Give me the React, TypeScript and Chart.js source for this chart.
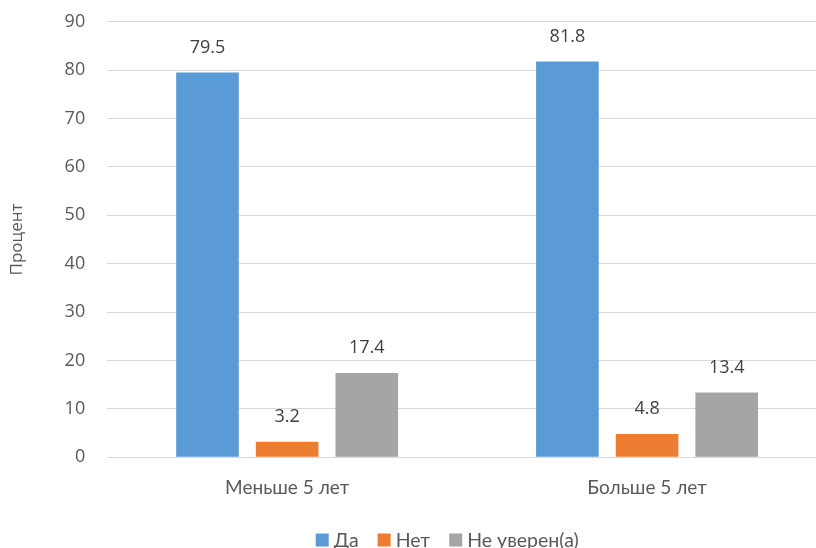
import React, { useEffect, useRef } from "react";
import { Chart, registerables } from "chart.js";

Chart.register(...registerables);

const categories = ["Меньше 5 лет", "Больше 5 лет"];
const seriesNames = ["Да", "Нет", "Не уверен(а)"];
const seriesDa = [79.5, 81.8];
const seriesNet = [3.2, 4.8];
const seriesNeUveren = [17.4, 13.4];
const seriesColors = ["#5B9BD5", "#ED7D31", "#A5A5A5"];
const yTitle = "Процент";

const NUM_FONT = "'Open Sans', 'Noto Sans', sans-serif";
const CAT_FONT = "Lato, 'Open Sans', sans-serif";

const dataLabelsPlugin = {
  id: "dataLabels",
  afterDatasetsDraw(chart: any) {
    const ctx = chart.ctx;
    ctx.save();
    ctx.font = `18px ${NUM_FONT}`;
    ctx.fillStyle = "#404040";
    ctx.textAlign = "center";
    ctx.textBaseline = "middle";
    chart.data.datasets.forEach((ds: any, i: number) => {
      const meta = chart.getDatasetMeta(i);
      meta.data.forEach((el: any, j: number) => {
        ctx.fillText(Number(ds.data[j]).toFixed(1), el.x, el.y - 25);
      });
    });
    ctx.restore();
  },
};

const legendPlugin = {
  id: "customLegend",
  afterDraw(chart: any) {
    const ctx = chart.ctx;
    ctx.save();
    ctx.font = `19.5px ${CAT_FONT}`;
    ctx.textBaseline = "middle";
    ctx.textAlign = "left";
    const box = 13;
    const gapBoxText = 5;
    const gapItems = 19;
    const items = chart.data.datasets.map((ds: any) => ({
      label: ds.label,
      color: ds.backgroundColor,
      w: box + gapBoxText + ctx.measureText(ds.label).width,
    }));
    const total =
      items.reduce((s: number, it: any) => s + it.w, 0) + gapItems * (items.length - 1);
    const cx = chart.chartArea.left + 340;
    const cy = 540;
    let x = cx - total / 2;
    items.forEach((it: any) => {
      ctx.fillStyle = it.color;
      ctx.fillRect(x, cy - box / 2, box, box);
      ctx.fillStyle = "#595959";
      ctx.fillText(it.label, x + box + gapBoxText, cy + 1);
      x += it.w + gapItems;
    });
    ctx.restore();
  },
};

export default function App() {
  const ref = useRef<HTMLCanvasElement>(null);

  useEffect(() => {
    if (!ref.current) return;
    const chart = new Chart(ref.current, {
      type: "bar",
      data: {
        labels: categories,
        datasets: [
          { label: seriesNames[0], data: seriesDa, backgroundColor: seriesColors[0] },
          { label: seriesNames[1], data: seriesNet, backgroundColor: seriesColors[1] },
          { label: seriesNames[2], data: seriesNeUveren, backgroundColor: seriesColors[2] },
        ].map((d) => ({
          ...d,
          categoryPercentage: 0.664,
          barPercentage: 0.786,
          borderWidth: 0,
        })),
      },
      options: {
        animation: false,
        responsive: false,
        devicePixelRatio: 1,
        layout: { padding: { top: 21.7, right: 23, bottom: 0, left: 0 } },
        plugins: {
          legend: { display: false },
          tooltip: { enabled: false },
        },
        scales: {
          x: {
            grid: { display: false, drawTicks: false },
            border: { display: true, color: "#D9D9D9", width: 1 },
            ticks: {
              color: "#595959",
              font: { family: CAT_FONT, size: 19 },
              padding: 19,
            },
            afterFit(scale: any) {
              scale.height = 90.7;
              scale.paddingLeft = 0;
              scale.paddingRight = 0;
            },
          },
          y: {
            min: 0,
            max: 90,
            ticks: {
              stepSize: 10,
              color: "#595959",
              font: { family: NUM_FONT, size: 18 },
              padding: 22,
            },
            grid: { color: "#D9D9D9", lineWidth: 1, drawTicks: false },
            border: { display: false },
            title: {
              display: true,
              text: yTitle,
              color: "#595959",
              font: { family: NUM_FONT, size: 17 },
              padding: { top: 7, bottom: 0 },
            },
            afterFit(scale: any) {
              scale.width = 107.2;
              scale.paddingTop = 0;
              scale.paddingBottom = 0;
            },
          },
        },
      },
      plugins: [dataLabelsPlugin, legendPlugin],
    });
    return () => chart.destroy();
  }, []);

  return (
    <div
      style={{
        position: "fixed",
        left: 0,
        top: 0,
        width: 816,
        height: 548,
        overflow: "hidden",
        background: "#fff",
      }}
    >
      <canvas
        ref={ref}
        width={850}
        height={548}
        style={{ width: 850, height: 548, display: "block" }}
      />
    </div>
  );
}
